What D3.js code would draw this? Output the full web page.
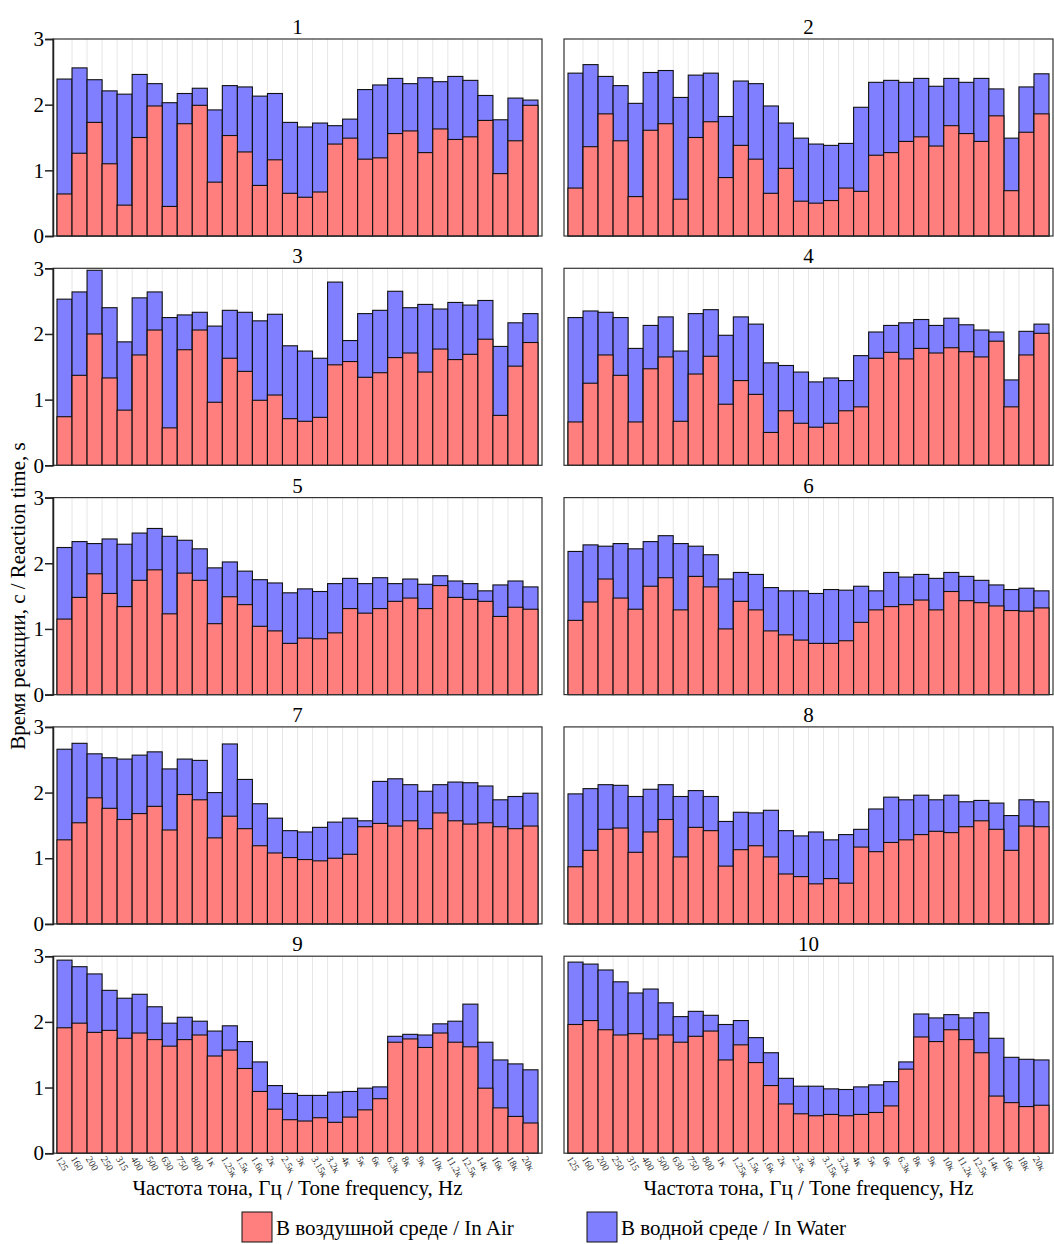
<!DOCTYPE html>
<html>
<head>
<meta charset="utf-8">
<script src="https://cdn.jsdelivr.net/npm/d3@7"></script>
<style>
  body { margin: 0; background: #fff; }
  text { font-family: "Liberation Serif", "Times New Roman", serif; }
</style>
</head>
<body>
<svg id="chart" width="1054" height="1244"></svg>
<script>
// tone frequencies (x categories)
var freqs = ["125","160","200","250","315","400","500","630","750","800","1к","1.25к","1.5к","1.6к","2к","2.5к",
  "3к","3.15к","3.2к","4к","5к","6к","6.3к","8к","9к","10к","11.2к","12.5к","14к","16к","18к","20к"];

var panelTitles = ["1","2","3","4","5","6","7","8","9","10"];
var yTicks = [0, 1, 2, 3];

// reaction time in air, s (one array per subject)
var airData = [
  [0.64,1.26,1.73,1.10,0.47,1.50,1.98,0.45,1.71,1.99,0.82,1.53,1.28,0.77,1.16,0.65,0.59,0.67,1.40,1.49,1.17,1.19,1.56,1.60,1.27,1.63,1.47,1.51,1.76,0.95,1.45,1.99],
  [0.73,1.36,1.86,1.45,0.60,1.61,1.71,0.56,1.50,1.74,0.89,1.38,1.17,0.65,1.03,0.53,0.50,0.54,0.73,0.68,1.23,1.27,1.44,1.51,1.37,1.68,1.56,1.44,1.83,0.69,1.58,1.86],
  [0.74,1.37,2.00,1.33,0.84,1.68,2.06,0.57,1.76,2.06,0.96,1.63,1.43,0.99,1.07,0.71,0.67,0.73,1.53,1.58,1.34,1.41,1.64,1.71,1.42,1.77,1.61,1.69,1.92,0.76,1.51,1.87],
  [0.66,1.25,1.68,1.37,0.66,1.47,1.65,0.67,1.39,1.66,0.93,1.29,1.08,0.50,0.83,0.64,0.58,0.64,0.83,0.89,1.63,1.72,1.62,1.78,1.71,1.79,1.73,1.65,1.89,0.89,1.68,2.01],
  [1.15,1.48,1.84,1.54,1.34,1.74,1.90,1.23,1.85,1.74,1.08,1.49,1.37,1.04,0.97,0.78,0.86,0.85,0.94,1.31,1.24,1.31,1.42,1.47,1.31,1.66,1.48,1.45,1.42,1.19,1.33,1.30],
  [1.13,1.41,1.76,1.47,1.30,1.65,1.78,1.29,1.80,1.64,1.00,1.42,1.29,0.97,0.91,0.83,0.78,0.78,0.82,1.10,1.29,1.34,1.37,1.44,1.29,1.57,1.43,1.40,1.35,1.28,1.27,1.32],
  [1.28,1.54,1.92,1.76,1.59,1.68,1.79,1.43,1.97,1.89,1.31,1.64,1.45,1.19,1.08,1.01,0.98,0.96,1.00,1.06,1.48,1.53,1.49,1.57,1.45,1.69,1.57,1.52,1.54,1.48,1.45,1.49],
  [0.87,1.12,1.44,1.46,1.09,1.40,1.59,1.02,1.47,1.42,0.88,1.13,1.19,1.02,0.76,0.72,0.61,0.69,0.62,1.17,1.10,1.24,1.28,1.36,1.41,1.39,1.48,1.57,1.44,1.12,1.49,1.48],
  [1.91,1.98,1.84,1.87,1.75,1.83,1.73,1.63,1.73,1.80,1.48,1.57,1.29,0.94,0.67,0.51,0.49,0.54,0.47,0.55,0.66,0.83,1.69,1.74,1.61,1.83,1.69,1.62,0.99,0.69,0.56,0.46],
  [1.96,2.02,1.88,1.80,1.82,1.74,1.80,1.69,1.78,1.86,1.42,1.65,1.38,1.03,0.75,0.60,0.57,0.59,0.57,0.59,0.62,0.72,1.28,1.77,1.70,1.88,1.73,1.53,0.87,0.77,0.71,0.73]
];

// reaction time in water, s (top of the blue bar)
var waterData = [
  [2.39,2.56,2.38,2.21,2.16,2.46,2.32,2.03,2.17,2.25,1.92,2.29,2.27,2.13,2.17,1.73,1.66,1.72,1.68,1.78,2.23,2.30,2.40,2.32,2.41,2.35,2.43,2.37,2.14,1.77,2.10,2.07],
  [2.48,2.61,2.43,2.29,2.02,2.49,2.52,2.11,2.45,2.48,1.82,2.36,2.32,1.98,1.72,1.49,1.40,1.38,1.41,1.96,2.34,2.37,2.34,2.40,2.28,2.40,2.34,2.40,2.24,1.49,2.27,2.47],
  [2.53,2.64,2.97,2.40,1.88,2.55,2.64,2.25,2.29,2.33,2.12,2.36,2.33,2.20,2.30,1.82,1.74,1.63,2.79,1.90,2.31,2.36,2.65,2.40,2.45,2.38,2.48,2.44,2.51,1.81,2.17,2.31],
  [2.25,2.35,2.33,2.25,1.78,2.13,2.26,1.74,2.31,2.37,1.98,2.26,2.15,1.56,1.52,1.42,1.27,1.33,1.29,1.67,2.03,2.13,2.17,2.22,2.13,2.24,2.14,2.06,2.03,1.30,2.04,2.15],
  [2.24,2.33,2.30,2.37,2.29,2.46,2.53,2.41,2.35,2.22,1.93,2.02,1.88,1.75,1.70,1.55,1.61,1.57,1.69,1.77,1.69,1.78,1.69,1.76,1.68,1.81,1.73,1.69,1.58,1.67,1.73,1.64],
  [2.18,2.28,2.26,2.30,2.22,2.33,2.42,2.30,2.26,2.13,1.76,1.86,1.83,1.63,1.58,1.58,1.54,1.60,1.59,1.65,1.58,1.86,1.79,1.83,1.77,1.86,1.80,1.74,1.67,1.60,1.62,1.58],
  [2.66,2.75,2.59,2.53,2.51,2.57,2.62,2.36,2.51,2.49,2.00,2.74,2.20,1.83,1.61,1.42,1.40,1.47,1.55,1.61,1.57,2.17,2.21,2.12,2.02,2.12,2.16,2.15,2.10,1.89,1.94,1.99],
  [1.98,2.06,2.12,2.11,1.94,2.05,2.12,1.94,2.03,1.94,1.56,1.70,1.69,1.73,1.42,1.34,1.40,1.28,1.36,1.44,1.75,1.93,1.89,1.96,1.89,1.96,1.86,1.88,1.84,1.65,1.89,1.86],
  [2.94,2.84,2.73,2.48,2.36,2.42,2.23,1.98,2.07,2.01,1.86,1.94,1.70,1.39,1.03,0.91,0.88,0.88,0.93,0.94,0.99,1.01,1.78,1.81,1.80,1.97,2.01,2.27,1.69,1.42,1.36,1.27],
  [2.91,2.88,2.79,2.61,2.44,2.50,2.29,2.08,2.16,2.10,1.96,2.02,1.76,1.53,1.14,1.02,1.02,0.98,0.97,1.01,1.04,1.09,1.39,2.12,2.06,2.11,2.06,2.14,1.75,1.46,1.43,1.42]
];

var colAir = "#ff7f7f", colWater = "#7f7fff";

var svg = d3.select("#chart");

// panel layout
var colX = [53, 564],
    rowTop = 39,
    rowStep = 229.3,
    pw = 489,
    ph = 197;

var x = d3.scaleBand().domain(freqs).range([4, pw - 4]).padding(0);
var y = d3.scaleLinear().domain([0, 3]).range([ph, 0]);

panelTitles.forEach(function(title, i) {
  var col = i % 2, row = Math.floor(i / 2);
  var g = svg.append("g")
    .attr("transform", "translate(" + colX[col] + "," + (rowTop + row * rowStep) + ")");

  // faint vertical grid between bars
  g.selectAll(".vgrid")
    .data(freqs.slice(1))
    .enter().append("line")
      .attr("x1", function(d) { return x(d); })
      .attr("x2", function(d) { return x(d); })
      .attr("y1", 0).attr("y2", ph)
      .attr("stroke", "#e6e6e6")
      .attr("stroke-width", 1);

  var rows = freqs.map(function(f, j) {
    return { f: f, air: airData[i][j], water: waterData[i][j] };
  });

  g.selectAll(".water")
    .data(rows)
    .enter().append("rect")
      .attr("x", function(d) { return x(d.f); })
      .attr("width", x.bandwidth())
      .attr("y", function(d) { return y(d.water); })
      .attr("height", function(d) { return y(0) - y(d.water); })
      .attr("fill", colWater)
      .attr("stroke", "#111")
      .attr("stroke-width", 1.1);

  g.selectAll(".air")
    .data(rows)
    .enter().append("rect")
      .attr("x", function(d) { return x(d.f); })
      .attr("width", x.bandwidth())
      .attr("y", function(d) { return y(d.air); })
      .attr("height", function(d) { return y(0) - y(d.air); })
      .attr("fill", colAir)
      .attr("stroke", "#111")
      .attr("stroke-width", 1.1);

  // frame
  g.append("rect")
    .attr("x", 0).attr("y", 0)
    .attr("width", pw).attr("height", ph)
    .attr("fill", "none")
    .attr("stroke", "#333")
    .attr("stroke-width", 1.2);

  g.append("text")
    .attr("x", pw / 2).attr("y", -5)
    .attr("text-anchor", "middle")
    .attr("font-size", 21)
    .text(title);

  if (col === 0) {
    var ya = g.append("g")
      .call(d3.axisLeft(y).tickValues(yTicks).tickFormat(d3.format("d")).tickSize(8).tickPadding(1));
    ya.select(".domain").attr("stroke", "#222").attr("stroke-width", 1.5);
    ya.selectAll(".tick line").attr("stroke", "#222").attr("stroke-width", 1.5);
    ya.selectAll("text")
      .attr("font-family", "Liberation Serif, serif")
      .attr("font-size", 21)
      .attr("fill", "#000");
  }

  if (row === 4) {
    var xa = g.append("g")
      .attr("transform", "translate(0," + ph + ")")
      .call(d3.axisBottom(x).tickSize(0).tickPadding(4));
    xa.select(".domain").remove();
    xa.selectAll("text")
      .attr("font-family", "Liberation Serif, serif")
      .attr("font-size", 10)
      .attr("fill", "#333")
      .attr("dy", "0.3em")
      .attr("text-anchor", "start")
      .attr("transform", "translate(-3,2) rotate(60)");

    g.append("text")
      .attr("x", pw / 2).attr("y", ph + 42)
      .attr("text-anchor", "middle")
      .attr("font-size", 21)
      .text("Частота тона, Гц / Tone frequency, Hz");
  }
});

// y axis title
svg.append("text")
  .attr("transform", "translate(25,596) rotate(-90)")
  .attr("text-anchor", "middle")
  .attr("font-size", 21)
  .text("Время реакции, с / Reaction time, s");

// legend
var legendItems = [
  { label: "В воздушной среде / In Air", color: colAir, x: 242 },
  { label: "В водной среде / In Water", color: colWater, x: 587 }
];
var lg = svg.selectAll(".legend")
  .data(legendItems)
  .enter().append("g")
    .attr("transform", function(d) { return "translate(" + d.x + ",1212)"; });
lg.append("rect")
  .attr("width", 30).attr("height", 30)
  .attr("fill", function(d) { return d.color; })
  .attr("stroke", "#111")
  .attr("stroke-width", 1);
lg.append("text")
  .attr("x", 34).attr("y", 23)
  .attr("font-size", 21)
  .text(function(d) { return d.label; });
</script>
</body>
</html>
